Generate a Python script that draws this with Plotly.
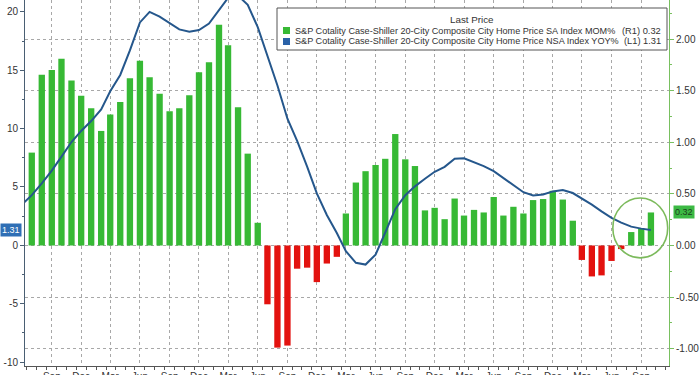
import pandas as pd
import plotly.graph_objects as go

# ---- data ----
bar_months = pd.date_range("2020-07-01", periods=64, freq="MS")
mom_sa = [0.90, 1.655, 1.70, 1.81, 1.60, 1.45, 1.33, 1.11, 1.27, 1.39, 1.62, 1.79,
          1.63, 1.47, 1.30, 1.33, 1.455, 1.68, 1.775, 2.14, 1.94, 1.34, 0.89, 0.22,
          -0.57, -0.99, -0.97, -0.225, -0.215, -0.355, -0.175, -0.11,
          0.31, 0.61, 0.72, 0.78, 0.84, 1.08, 0.835, 0.77, 0.34, 0.365,
          0.255, 0.455, 0.29, 0.345, 0.32, 0.47, 0.29, 0.375, 0.31, 0.44, 0.45, 0.53,
          0.445, 0.24, -0.14, -0.30, -0.29, -0.15, -0.035, 0.13, 0.165, 0.32]

line_months = pd.date_range("2020-06-01", periods=65, freq="MS")
yoy_nsa = [3.5, 4.3, 5.3, 6.4, 7.6, 8.85, 9.8,
           10.65, 11.65, 13.2, 14.6, 16.7, 19.1, 20.0, 19.6, 19.05, 18.5, 18.3, 18.45,
           19.0, 20.1, 21.2, 21.4, 20.6, 18.7, 16.2, 13.7, 10.85, 8.95, 6.75, 4.45,
           2.6, 1.05, -0.5, -1.5, -1.65, -0.8, 1.1, 3.1, 4.3, 5.05, 5.7, 6.3,
           6.72, 7.42, 7.45, 7.13, 6.79, 6.36, 5.76, 5.2, 4.55, 4.27, 4.36, 4.62,
           4.74, 4.48, 4.04, 3.48, 2.91, 2.36, 1.95, 1.6, 1.43, 1.31]

x_tick_dates = pd.date_range("2020-09-01", "2025-09-01", freq="3MS")
x_tick_text = [d.strftime("%b") for d in x_tick_dates]

left_ticks = [-10, -5, 0, 5, 10, 15, 20]
left_tick_text = ["-10", "-5", "0", "5", "10", "15", "20"]
right_ticks = [-1.0, -0.5, 0.0, 0.5, 1.0, 1.5, 2.0]
right_tick_text = ["-1.00", "-0.50", "0.00", "0.50", "1.00", "1.50", "2.00"]

series_mom = "S&P Cotality Case-Shiller 20-City Composite City Home Price SA Index MOM%"
series_yoy = "S&P Cotality Case-Shiller 20-City Composite City Home Price NSA Index YOY%"
last_mom = "0.32"
last_yoy = "1.31"

# ---- style ----
GREEN = "#37b935"
RED = "#e3120f"
BLUE = "#25578c"
GRID = "#a8a8a8"
FONT = "Liberation Sans, Arial, sans-serif"
TXT = "#333333"

bar_colors = [GREEN if v >= 0 else RED for v in mom_sa]

fig = go.Figure()
fig.add_trace(go.Bar(x=bar_months, y=mom_sa, marker_color=bar_colors,
                     marker_line_width=0, yaxis="y", name=series_mom,
                     showlegend=False))
fig.add_trace(go.Scatter(x=line_months, y=yoy_nsa, mode="lines",
                         line=dict(color=BLUE, width=2), yaxis="y2",
                         name=series_yoy, showlegend=False, cliponaxis=True))

fig.update_layout(
    width=700, height=375,
    margin=dict(l=25, r=31, t=0, b=9, autoexpand=False),
    paper_bgcolor="white", plot_bgcolor="white",
    bargap=0.30,
    font=dict(family=FONT, size=9, color=TXT),
    xaxis=dict(
        type="date", range=["2020-06-10", "2025-11-26"], automargin=False,
        tickvals=list(x_tick_dates), ticktext=x_tick_text,
        ticks="", showgrid=True, gridcolor=GRID, griddash="dot", gridwidth=1,
        showline=True, linecolor="#555555", linewidth=1,
        tickfont=dict(size=10, color=TXT), ticklabelstandoff=1,
        minor=dict(dtick="M1", tick0="2020-06-16", ticks="outside", ticklen=3,
                   tickcolor="#555555", showgrid=False),
        zeroline=False,
    ),
    yaxis=dict(
        side="right", range=[-1.168, 2.379], automargin=False,
        tickvals=right_ticks, ticktext=right_tick_text,
        showgrid=True, gridcolor=GRID, griddash="dot", gridwidth=1,
        zeroline=False, showline=True, linecolor="#79c060", linewidth=1,
        ticks="outside", ticklen=4, tickcolor="#79c060",
        minor=dict(dtick=0.25, ticks="outside", ticklen=2, tickcolor="#79c060",
                   showgrid=False),
        tickfont=dict(size=10, color=TXT),
    ),
    yaxis2=dict(
        overlaying="y", side="left", range=[-10.34, 21.02], automargin=False,
        tickvals=left_ticks, ticktext=left_tick_text,
        showgrid=False, zeroline=False, showline=True,
        linecolor="#4a5f73", linewidth=1,
        ticks="outside", ticklen=4, tickcolor="#4a5f73",
        minor=dict(dtick=2.5, ticks="outside", ticklen=2, tickcolor="#4a5f73"),
        tickfont=dict(size=10, color=TXT),
    ),
)

W, H = 644.0, 366.0  # plot area size in px


def px(xp):
    return (xp - 25) / W


def py(yp):
    return (366 - yp) / H


shapes = [
    # legend box
    dict(type="rect", xref="paper", yref="paper", x0=px(277), x1=px(667),
         y0=py(50), y1=py(8), fillcolor="white", line=dict(color="#555555", width=1),
         layer="above"),
    # legend swatches
    dict(type="rect", xref="paper", yref="paper", x0=px(283), x1=px(290),
         y0=py(34), y1=py(27), fillcolor=GREEN, line=dict(width=0), layer="above"),
    dict(type="rect", xref="paper", yref="paper", x0=px(283), x1=px(290),
         y0=py(45), y1=py(38), fillcolor="#2a62a8", line=dict(width=0), layer="above"),
    # highlight circle
    dict(type="circle", xref="x", yref="y", x0="2025-06-05", x1="2025-11-22",
         y0=-0.12, y1=0.46, line=dict(color="#7cba5c", width=1.6), layer="above"),
]
fig.update_layout(shapes=shapes)

ann = [
    dict(text="Last Price", xref="paper", yref="paper", x=px(472), y=py(19.5),
         xanchor="center", yanchor="middle", showarrow=False,
         font=dict(size=9.8, color=TXT)),
    dict(text=series_mom, xref="paper", yref="paper", x=px(293), y=py(30.5),
         xanchor="left", yanchor="middle", showarrow=False,
         font=dict(size=9.1, color=TXT)),
    dict(text=series_yoy, xref="paper", yref="paper", x=px(293), y=py(41.5),
         xanchor="left", yanchor="middle", showarrow=False,
         font=dict(size=9.1, color=TXT)),
    dict(text="(R1) " + last_mom, xref="paper", yref="paper", x=px(663), y=py(30.5),
         xanchor="right", yanchor="middle", showarrow=False,
         font=dict(size=9.3, color=TXT)),
    dict(text="(L1) " + last_yoy, xref="paper", yref="paper", x=px(663), y=py(41.5),
         xanchor="right", yanchor="middle", showarrow=False,
         font=dict(size=9.3, color=TXT)),
    # last value tags
    dict(text=last_yoy, xref="paper", yref="y2", x=0, y=float(last_yoy),
         xanchor="right", yanchor="middle", xshift=-3, showarrow=False,
         bgcolor="#2f6fb5", borderpad=1, font=dict(size=9, color="white")),
    dict(text=last_mom, xref="paper", yref="y", x=1, y=float(last_mom),
         xanchor="left", yanchor="middle", xshift=4, showarrow=False,
         bgcolor="#3cb944", borderpad=1, font=dict(size=9, color="#1d3d1d")),
]
fig.update_layout(annotations=ann)

fig.write_html(
    "out.html",
    config={"displayModeBar": False},
    post_script="document.body.style.margin='0';document.body.style.overflow='hidden';",
)
